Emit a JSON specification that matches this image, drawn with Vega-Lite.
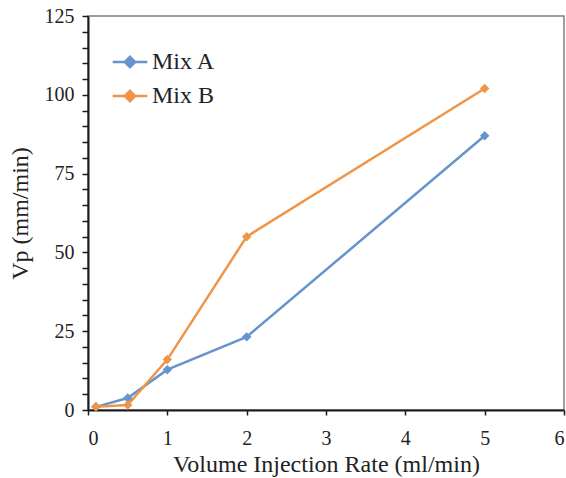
{
  "$schema": "https://vega.github.io/schema/vega-lite/v6.json",
  "width": 476,
  "height": 394,
  "autosize": {"type": "none"},
  "padding": {"left": 88, "top": 16, "right": 2, "bottom": 68},
  "background": "white",
  "config": {
    "font": "Liberation Serif",
    "view": {"stroke": "#7f7f7f", "strokeWidth": 1.5},
    "axis": {"grid": false, "domainColor": "#1a1a1a", "domainWidth": 2, "tickColor": "#1a1a1a", "tickWidth": 1.5, "labelColor": "#222222", "titleColor": "#222222", "labelFont": "Liberation Serif", "titleFont": "Liberation Serif", "labelFontSize": 20, "titleFontSize": 24, "titleFontWeight": "normal"},
    "legend": {"labelFont": "Liberation Serif"}
  },
  "data": {
    "values": [
      {"series": "Mix A", "rate": 0.1, "vp": 1.0},
      {"series": "Mix A", "rate": 0.5, "vp": 3.8},
      {"series": "Mix A", "rate": 1, "vp": 12.8},
      {"series": "Mix A", "rate": 2, "vp": 23.2},
      {"series": "Mix A", "rate": 5, "vp": 87},
      {"series": "Mix B", "rate": 0.1, "vp": 1.0},
      {"series": "Mix B", "rate": 0.5, "vp": 1.6},
      {"series": "Mix B", "rate": 1, "vp": 16},
      {"series": "Mix B", "rate": 2, "vp": 55},
      {"series": "Mix B", "rate": 5, "vp": 102}
    ]
  },
  "mark": {"type": "line", "strokeWidth": 2.5, "point": {"shape": "diamond", "size": 90, "filled": true, "opacity": 1}},
  "encoding": {
    "x": {"field": "rate", "type": "quantitative", "scale": {"domain": [0, 6], "nice": false},
      "axis": {"values": [0, 1, 2, 3, 4, 5, 6], "format": "d", "tickSize": 5, "labelPadding": 13,
        "encode": {"ticks": {"update": {"y": {"value": 0}, "y2": {"value": -6}}}},
        "title": "Volume Injection Rate (ml/min)", "titlePadding": 4}},
    "y": {"field": "vp", "type": "quantitative", "scale": {"domain": [0, 125], "nice": false},
      "axis": {"values": [0, 5, 10, 15, 20, 25, 30, 35, 40, 45, 50, 55, 60, 65, 70, 75, 80, 85, 90, 95, 100, 105, 110, 115, 120, 125],
        "labelExpr": "datum.value % 25 === 0 ? datum.label : ''",
        "tickSize": 6,
        "encode": {"ticks": {"update": {"x": {"signal": "datum.value % 25 === 0 ? -6 : 0"}, "x2": {"value": 6}}}},
        "labelPadding": 8, "title": "Vp (mm/min)", "titlePadding": 12}},
    "color": {"field": "series", "type": "nominal",
      "scale": {"domain": ["Mix A", "Mix B"], "range": ["#6694cc", "#ef9548"]},
      "legend": {"title": null, "orient": "none", "legendX": 23, "legendY": 27, "labelFontSize": 24, "labelColor": "#222222", "rowPadding": 3, "symbolType": "M-1,0H1M0,-0.3L0.3,0L0,0.3L-0.3,0Z", "symbolSize": 1200, "symbolStrokeWidth": 2.5, "labelOffset": 3}}
  }
}
